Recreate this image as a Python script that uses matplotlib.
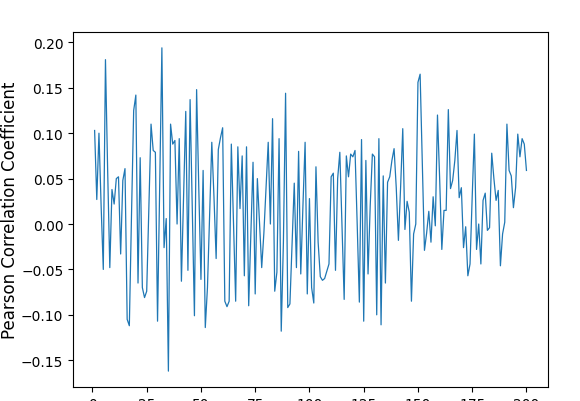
import numpy as np
from matplotlib import pyplot as plt

# correlation per window index
pearson = [
    0.103, 0.027, 0.100, 0.020, -0.050, 0.181, 0.060, -0.048, 0.038, 0.022,
    0.050, 0.052, -0.033, 0.048, 0.061, -0.105, -0.112, 0.010, 0.125, 0.142,
    -0.065, 0.073, -0.070, -0.081, -0.074, 0.020, 0.110, 0.081, 0.079, -0.107,
    0.040, 0.194, -0.026, 0.006, -0.162, 0.110, 0.088, 0.092, 0.000, 0.094,
    -0.063, 0.030, 0.124, -0.051, 0.137, 0.020, -0.101, 0.148, 0.040, -0.061,
    0.059, -0.114, -0.070, 0.010, 0.090, 0.030, -0.038, 0.082, 0.095, 0.106,
    -0.085, -0.091, -0.085, 0.088, 0.000, -0.085, 0.085, 0.017, 0.075, -0.057,
    0.085, -0.090, -0.010, 0.068, -0.077, 0.050, 0.000, -0.048, -0.010, 0.040,
    0.090, 0.000, 0.116, -0.074, -0.053, 0.094, -0.118, -0.020, 0.144, -0.092,
    -0.088, -0.020, 0.045, -0.048, 0.080, -0.055, 0.020, 0.090, -0.077, 0.028,
    -0.070, -0.087, 0.063, -0.020, -0.058, -0.062, -0.060, -0.052, -0.044, 0.052,
    0.056, -0.051, 0.050, 0.079, 0.000, -0.083, 0.075, 0.052, 0.077, 0.074,
    0.081, 0.000, -0.086, 0.093, -0.107, 0.070, -0.055, 0.020, 0.077, 0.074,
    -0.100, 0.094, -0.111, 0.053, -0.065, 0.046, 0.052, 0.070, 0.083, 0.040,
    -0.018, 0.040, 0.105, -0.006, 0.025, 0.013, -0.085, -0.011, 0.000, 0.156,
    0.165, 0.070, -0.029, -0.010, 0.014, -0.020, 0.030, -0.002, 0.120, 0.050,
    -0.028, 0.015, 0.015, 0.126, 0.039, 0.048, 0.070, 0.103, 0.029, 0.040,
    -0.026, -0.003, -0.057, -0.044, 0.030, 0.099, -0.028, 0.000, -0.044, 0.026,
    0.034, -0.007, -0.004, 0.078, 0.050, 0.026, 0.037, -0.046, -0.011, 0.002,
    0.110, 0.059, 0.053, 0.018, 0.040, 0.099, 0.074, 0.094, 0.088, 0.059,
]
index = np.arange(1, len(pearson) + 1)


def main():
    fig = plt.figure(figsize=(5.8, 4.02), dpi=100)
    ax = fig.add_axes([0.1259, 0.0341, 0.819, 0.8846])

    ax.plot(index, pearson, color="#1f77b4", linewidth=0.9)
    ax.set_ylabel("Pearson Correlation Coefficient", fontsize=12)
    ax.yaxis.set_label_coords(-0.114, 0.5)
    ax.set_xticks([0, 25, 50, 75, 100, 125, 150, 175, 200])

    fig.savefig("out.png", dpi=100)


if __name__ == "__main__":
    main()
